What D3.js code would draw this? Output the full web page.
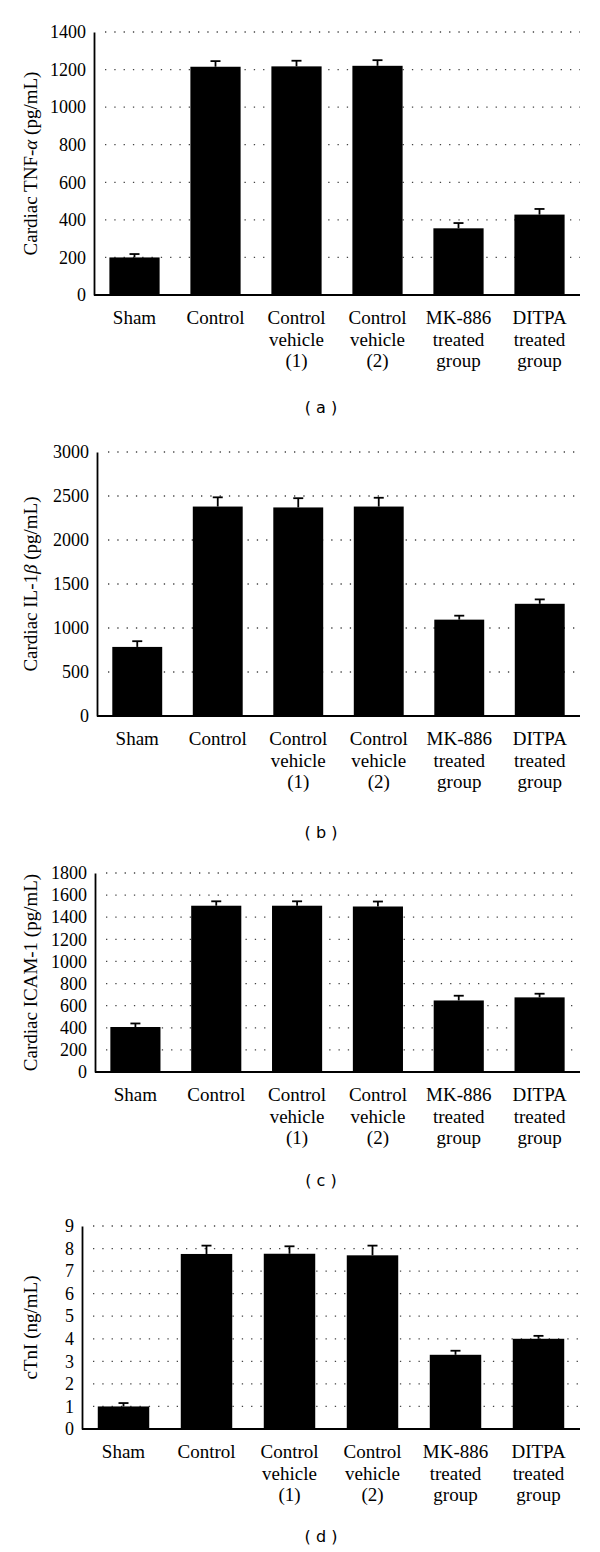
<!DOCTYPE html>
<html><head><meta charset="utf-8">
<script src="https://cdn.jsdelivr.net/npm/d3@7"></script>
<style>body{margin:0;background:#fff;} svg{display:block;}</style>
</head><body>
<svg id="chart" width="600" height="1552"></svg>
<script>
const categories = [
  ["Sham"], ["Control"], ["Control","vehicle","(1)"], ["Control","vehicle","(2)"],
  ["MK-886","treated","group"], ["DITPA","treated","group"]
];
const tnfMeans = [200, 1215, 1217, 1220, 355, 428];
const tnfErr   = [18, 30, 30, 30, 28, 30];
const tnfTicks = [0, 200, 400, 600, 800, 1000, 1200, 1400];

const il1Means = [785, 2380, 2370, 2380, 1095, 1275];
const il1Err   = [65, 105, 105, 100, 45, 50];
const il1Ticks = [0, 500, 1000, 1500, 2000, 2500, 3000];

const icamMeans = [407, 1504, 1504, 1497, 647, 675];
const icamErr   = [32, 40, 40, 45, 43, 33];
const icamTicks = [0, 200, 400, 600, 800, 1000, 1200, 1400, 1600, 1800];

const ctniMeans = [1.0, 7.76, 7.77, 7.70, 3.29, 4.0];
const ctniErr   = [0.15, 0.37, 0.33, 0.43, 0.18, 0.13];
const ctniTicks = [0, 1, 2, 3, 4, 5, 6, 7, 8, 9];

const panelLabels = ["( a )", "( b )", "( c )", "( d )"];

const panels = [
  {means: tnfMeans, err: tnfErr, ticks: tnfTicks, label: ["Cardiac TNF-", "α", " (pg/mL)"],
   x0: 94, x1: 580, yTop: 32, yBot: 295, tag: panelLabels[0], tagY: 407},
  {means: il1Means, err: il1Err, ticks: il1Ticks, label: ["Cardiac IL-1", "β", " (pg/mL)"],
   x0: 97, x1: 580, yTop: 452, yBot: 716, tag: panelLabels[1], tagY: 832},
  {means: icamMeans, err: icamErr, ticks: icamTicks, label: ["Cardiac ICAM-1 (pg/mL)"],
   x0: 95, x1: 580, yTop: 873, yBot: 1072, tag: panelLabels[2], tagY: 1180},
  {means: ctniMeans, err: ctniErr, ticks: ctniTicks, label: ["cTnI (ng/mL)"],
   x0: 82, x1: 580, yTop: 1226, yBot: 1429, tag: panelLabels[3], tagY: 1536}
];

const svg = d3.select("#chart");
const serif = "'Liberation Serif', 'Times New Roman', serif";

panels.forEach(p => {
  const g = svg.append("g");
  const idx = d3.range(categories.length);
  const x = d3.scaleBand().domain(idx).range([p.x0, p.x1]).paddingInner(0.38).paddingOuter(0.19);
  const y = d3.scaleLinear().domain([0, p.ticks[p.ticks.length - 1]]).range([p.yBot, p.yTop]);

  // dotted grid
  g.append("g").selectAll("line").data(p.ticks.filter(t => t > 0)).join("line")
    .attr("x1", p.x0 + 11).attr("x2", p.x1).attr("y1", d => y(d)).attr("y2", d => y(d))
    .attr("stroke", "#444").attr("stroke-width", 1.3).attr("stroke-dasharray", "1.3 8");

  // bars
  g.append("g").selectAll("rect").data(idx).join("rect")
    .attr("x", i => x(i)).attr("width", x.bandwidth())
    .attr("y", i => y(p.means[i])).attr("height", i => p.yBot - y(p.means[i]))
    .attr("fill", "#000");

  // error bars (upper only)
  const eb = g.append("g").attr("stroke", "#000").attr("stroke-width", 1.8);
  eb.selectAll("line.v").data(idx).join("line").attr("class", "v")
    .attr("x1", i => x(i) + x.bandwidth() / 2).attr("x2", i => x(i) + x.bandwidth() / 2)
    .attr("y1", i => y(p.means[i])).attr("y2", i => y(p.means[i] + p.err[i]));
  eb.selectAll("line.c").data(idx).join("line").attr("class", "c")
    .attr("x1", i => x(i) + x.bandwidth() / 2 - 5).attr("x2", i => x(i) + x.bandwidth() / 2 + 5)
    .attr("y1", i => y(p.means[i] + p.err[i])).attr("y2", i => y(p.means[i] + p.err[i]));

  // y axis
  const ya = g.append("g").attr("transform", `translate(${p.x0},0)`)
    .call(d3.axisLeft(y).tickValues(p.ticks).tickSize(0).tickPadding(8).tickFormat(d3.format("d")));
  ya.select(".domain").attr("stroke", "#000").attr("stroke-width", 1.8);
  ya.selectAll("text").attr("font-family", serif).attr("font-size", 18).attr("fill", "#000");

  // x axis line
  g.append("line").attr("x1", p.x0).attr("x2", p.x1).attr("y1", p.yBot).attr("y2", p.yBot)
    .attr("stroke", "#000").attr("stroke-width", 1.8);

  // category labels
  g.append("g").selectAll("text").data(idx).join("text")
    .attr("text-anchor", "middle").attr("font-family", serif).attr("font-size", 19).attr("fill", "#000")
    .attr("transform", i => `translate(${x(i) + x.bandwidth() / 2},${p.yBot + 29})`)
    .each(function(i) {
      d3.select(this).selectAll("tspan").data(categories[i]).join("tspan")
        .attr("x", 0).attr("y", (d, k) => k * 21.5).text(d => d);
    });

  // y label
  const yl = g.append("text")
    .attr("transform", `translate(30,${(p.yTop + p.yBot) / 2}) rotate(-90)`)
    .attr("text-anchor", "middle").attr("dominant-baseline", "central")
    .attr("font-family", serif).attr("font-size", 19).attr("fill", "#000");
  yl.selectAll("tspan").data(p.label).join("tspan")
    .attr("font-style", (d, k) => k === 1 ? "italic" : "normal").text(d => d);

  // panel tag
  g.append("text").attr("x", 321).attr("y", p.tagY).attr("text-anchor", "middle")
    .attr("dominant-baseline", "central")
    .attr("font-family", "'DejaVu Sans', sans-serif").attr("font-size", 16).attr("fill", "#000")
    .attr("xml:space", "preserve").style("white-space", "pre")
    .text(p.tag);
});
</script>
</body></html>
